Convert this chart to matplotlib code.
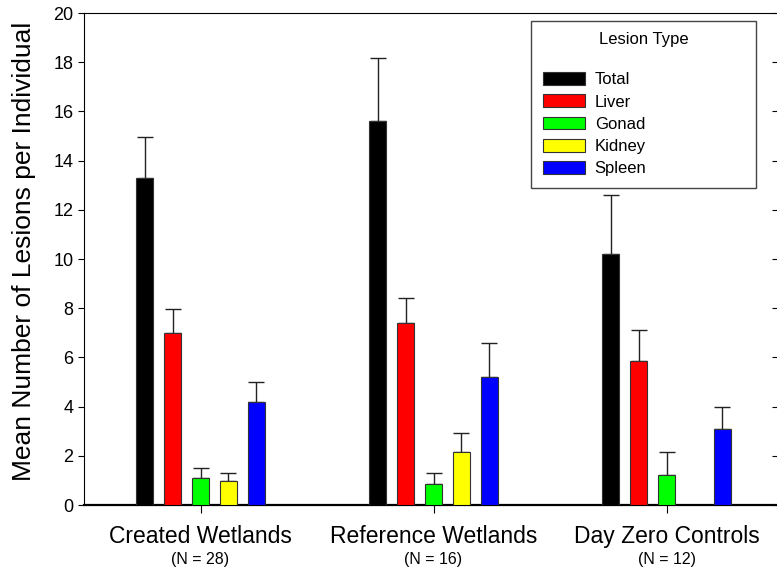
import numpy as np
import matplotlib
matplotlib.use('Agg')
import matplotlib.pyplot as plt
from matplotlib.patches import Patch
from matplotlib.lines import TICKLEFT

plt.rcParams['font.family'] = ['Liberation Sans', 'DejaVu Sans']

groups = ['Created Wetlands', 'Reference Wetlands', 'Day Zero Controls']
n_labels = ['(N = 28)', '(N = 16)', '(N = 12)']
lesions = ['Total', 'Liver', 'Gonad', 'Kidney', 'Spleen']
colors = ['#000000', '#ff0000', '#00ff00', '#ffff00', '#0000ff']

# means and standard errors, one list per lesion type (across the 3 groups)
total = [13.3, 15.6, 10.2]
total_se = [1.66, 2.57, 2.42]
liver = [7.0, 7.4, 5.85]
liver_se = [0.96, 1.0, 1.28]
gonad = [1.08, 0.87, 1.23]
gonad_se = [0.43, 0.44, 0.93]
kidney = [0.98, 2.14, np.nan]
kidney_se = [0.32, 0.79, np.nan]
spleen = [4.2, 5.2, 3.1]
spleen_se = [0.78, 1.37, 0.9]

means = [total, liver, gonad, kidney, spleen]
errs = [total_se, liver_se, gonad_se, kidney_se, spleen_se]

fig = plt.figure(figsize=(7.77, 5.73), dpi=100)
ax = fig.add_axes([84/777, (573-505)/573, 699/777, 492/573])

x = np.arange(len(groups))
step = 0.12
width = 0.075
for i, (m, e, c) in enumerate(zip(means, errs, colors)):
    pos = x + (i - 2)*step
    m = np.array(m, dtype=float)
    e = np.array(e, dtype=float)
    ok = ~np.isnan(m)
    ax.bar(pos[ok], m[ok], width, color=c, edgecolor='#333333', linewidth=0.8, zorder=3)
    ax.errorbar(pos[ok], m[ok], yerr=[np.zeros(ok.sum()), e[ok]], fmt='none',
                ecolor='#222222', elinewidth=1, capsize=5.5, capthick=1, zorder=2)

ax.set_xlim(-0.5, 2.5)
ax.set_ylim(0, 20)
ax.set_yticks(np.arange(0, 21, 2))
ax.yaxis.set_ticks_position('both')
ax.tick_params(axis='y', labelsize=13, direction='out', length=4, labelright=False)
# right-hand ticks point inward (spine itself falls just outside the image)
for t in ax.yaxis.get_major_ticks():
    t.tick2line.set_marker(TICKLEFT)
    t.tick2line.set_markersize(8)
ax.set_xticks(x)
ax.set_xticklabels([])
ax.tick_params(axis='x', direction='out', length=6)
for xi, g, n in zip(x, groups, n_labels):
    ax.text(xi, -1.3, g, ha='center', va='center', fontsize=16.5)
    ax.text(xi, -2.2, n, ha='center', va='center', fontsize=11.5)
ax.spines['bottom'].set_linewidth(1.6)
ax.spines['right'].set_visible(False)
ax.set_ylabel('Mean Number of Lesions per Individual', fontsize=19)
ax.yaxis.set_label_coords(-0.068, 0.515)

handles = [Patch(facecolor=c, edgecolor='#333333', linewidth=0.8) for c in colors]
leg = ax.legend(handles, lesions, title='Lesion Type', loc='upper left',
                bbox_to_anchor=(523/777, 1-18/573, 241/777, 0.01),
                bbox_transform=fig.transFigure, mode='expand',
                fontsize=12, title_fontsize=12, handlelength=2.5, handleheight=0.8,
                labelspacing=0.42, handletextpad=0.6, borderpad=0.7,
                fancybox=False, framealpha=1, edgecolor='#444444')
leg.get_frame().set_linewidth(1.0)
leg._legend_box.align = 'center'
leg._legend_box.sep = 18

fig.savefig('out.png', dpi=100)
